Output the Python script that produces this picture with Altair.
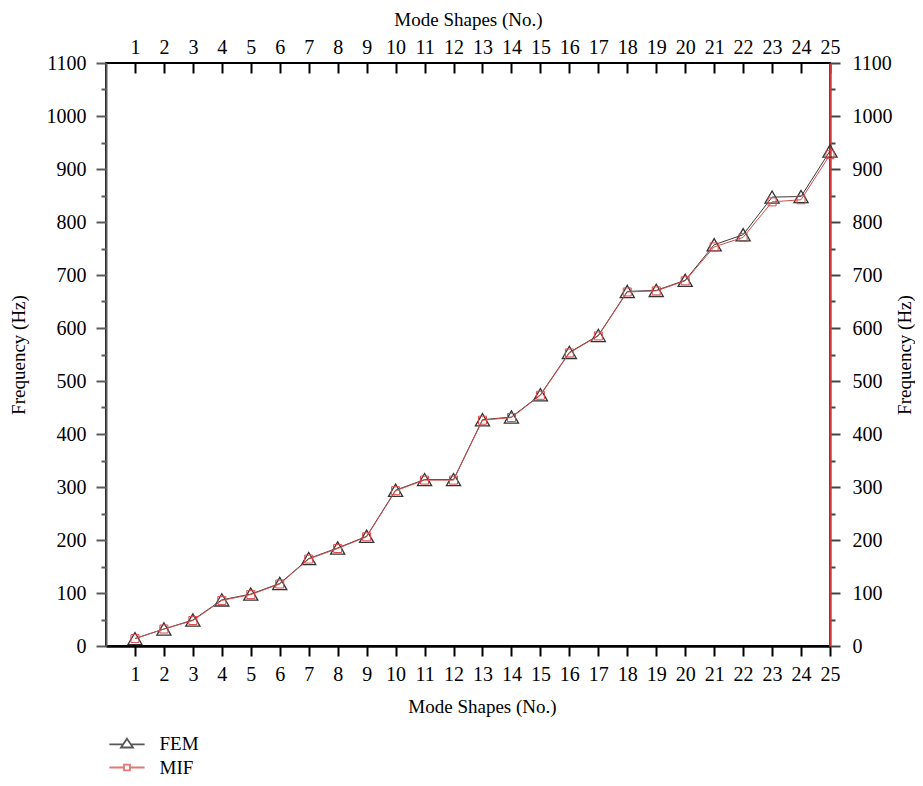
import altair as alt
import pandas as pd

# ---- data ----
modes = list(range(1, 26))
fem = [14, 32, 49, 87, 98, 118, 165, 185, 207, 294, 314, 314, 427, 432, 474,
       554, 586, 669, 671, 690, 757, 776, 847, 848, 934]
mif = [14, 32, 48, 86, 97, 117, 164, 184, 206, 293, 313, 313, 426, 431, 473,
       553, 585, 668, 670, 689, 753, 771, 838, 842, 927]
series = ["FEM", "MIF"]
y_ticks = list(range(0, 1101, 50))

df_fem = pd.DataFrame({"mode": modes, "freq": fem, "series": "FEM"})
df_mif = pd.DataFrame({"mode": modes, "freq": mif, "series": "MIF"})
df_leg = pd.DataFrame({"series": series})

FONT = "Liberation Serif"
FEM_COL = "#3a3a3a"
MIF_COL = "#d64c4c"
AX_RED = "#d43c3c"

xscale = alt.Scale(domain=[0, 25], nice=False, zero=False)
yscale = alt.Scale(domain=[0, 1100], nice=False)

tick_size = {"condition": {"test": "datum.value % 100 === 0", "value": 10}, "value": 5}
label_expr = "datum.value % 100 === 0 ? '' + datum.value : ''"

common = dict(labelFont=FONT, labelFontSize=20, labelColor="black",
              titleFont=FONT, titleFontSize=19, titleFontWeight="normal",
              titleColor="black", grid=False, labelOverlap=False,
              labelFlush=False)

x_bottom = alt.Axis(orient="bottom", values=modes, title="Mode Shapes (No.)",
                    domainColor="black", domainWidth=2.5, tickColor="black",
                    tickWidth=2, tickSize=10, labelPadding=8, titlePadding=13,
                    titleX=376, **common)
x_top = alt.Axis(orient="top", values=modes, title="Mode Shapes (No.)",
                 domain=False, offset=-10, tickColor="black", tickWidth=2,
                 tickSize=10, labelPadding=6, titlePadding=8, **common)
y_left = alt.Axis(orient="left", values=y_ticks, labelExpr=label_expr,
                  title="Frequency (Hz)", domainColor="#5a5a5a", domainWidth=2,
                  tickColor="#5a5a5a", tickWidth=2, tickSize=tick_size,
                  labelPadding=10, titlePadding=18, **common)
y_right = alt.Axis(orient="right", values=y_ticks, labelExpr=label_expr,
                   title="Frequency (Hz)", titleAngle=270, titleBaseline="top",
                   domainColor=AX_RED, domainWidth=2.5,
                   tickColor="#444444", tickWidth=2, tickSize=tick_size,
                   labelPadding=12, titlePadding=3, **common)

fem_layer = alt.Chart(df_fem).mark_line(
    color=FEM_COL, strokeWidth=1,
    point=alt.OverlayMarkDef(shape="triangle-up", filled=False, size=200,
                             color="#333333", strokeWidth=1.3),
).encode(
    x=alt.X("mode:Q", scale=xscale, axis=x_bottom),
    y=alt.Y("freq:Q", scale=yscale, axis=y_left),
)

mif_layer = alt.Chart(df_mif).mark_line(
    color=MIF_COL, strokeWidth=1,
    point=alt.OverlayMarkDef(shape="square", filled=False, size=64,
                             color=MIF_COL, strokeWidth=1),
).encode(
    x=alt.X("mode:Q", scale=xscale, axis=x_top),
    y=alt.Y("freq:Q", scale=yscale, axis=y_right),
)

fem_path = "M-2.2,0.1H-0.48M0.48,0.1H2.2M0,-0.6L0.75,0.5L-0.75,0.5Z"
mif_path = "M-2.2,0H-0.37M0.37,0H2.2M-0.37,-0.37H0.37V0.37H-0.37Z"

leg = alt.Legend(title=None, orient="none", legendX=11.5, legendY=671,
                 padding=0, symbolOffset=0, labelOffset=23, rowPadding=4,
                 symbolSize=256, symbolStrokeWidth=1.8,
                 labelFont=FONT, labelFontSize=19, labelColor="black")

legend_layer = alt.Chart(df_leg).mark_point(filled=False, strokeWidth=1.8).encode(
    shape=alt.Shape("series:N", scale=alt.Scale(domain=series, range=[fem_path, mif_path]), legend=leg),
    color=alt.Color("series:N", scale=alt.Scale(domain=series, range=["#111111", "#e03c3c"]), legend=leg),
).transform_filter("false")

chart = alt.layer(fem_layer, mif_layer, legend_layer).resolve_axis(
    x="independent", y="independent"
).properties(
    width=724, height=583,
    autosize=alt.AutoSizeParams(type="none"),
    padding={"left": 98, "top": 55, "right": 85, "bottom": 132},
).configure_view(stroke="black", strokeWidth=2)

chart.save("out.html", embed_options={"renderer": "svg", "actions": False})
